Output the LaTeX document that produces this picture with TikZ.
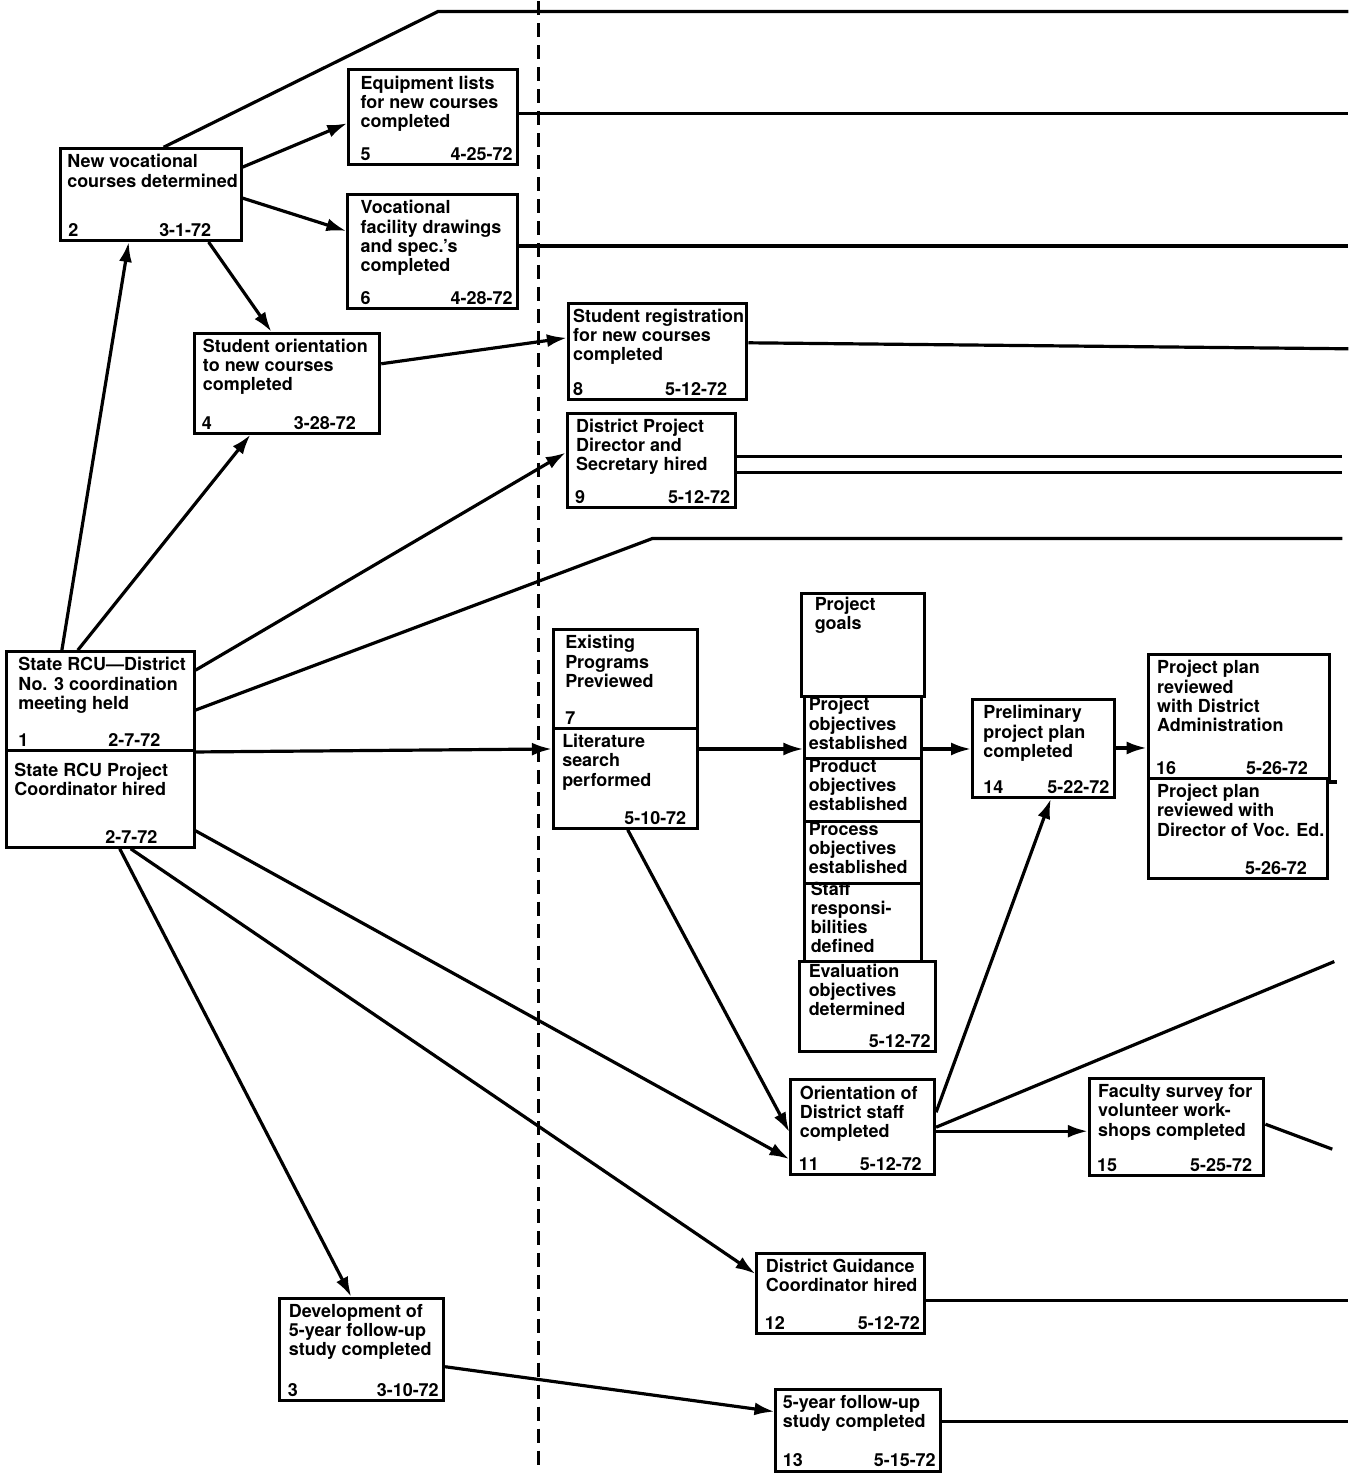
\documentclass[tikz,border=0pt]{standalone}
\usepackage{fontspec}
\setmainfont{TeX Gyre Heros}
\usetikzlibrary{arrows.meta}
\tikzset{
    box/.style ={
        rectangle,              % event box
        draw,                   % black frame
        line width = 1.5pt,     % frame width
        anchor = north west,    % placed by its top left corner
        inner sep = 0pt
    },
    ttl/.style ={
        anchor = north west,    % event text in the top left corner
        align = left,
        inner xsep = 5pt,
        inner ysep = 3.5pt
    },
    ttltop/.style ={ttl, inner xsep = 2.5pt, inner ysep = 1pt},
    num/.style ={anchor = south west, inner xsep = 4.5pt, inner ysep = 2.5pt},
    dat/.style ={anchor = south east, inner xsep = 3pt, inner ysep = 2.5pt},
    link/.style ={line width = 1.6pt}
}

\begin{document}
\begin{tikzpicture}[x=0.5pt, y=-0.5pt, >={Latex[length=10pt,width=6.5pt]},
    font=\fontsize{9}{9.6}\selectfont\bfseries]
    \fill[white] (0,0) rectangle (1351,1473);
    % time line
    \draw[line width=1.5pt, dash pattern=on 7pt off 4pt] (540,0) -- (540,1473);

    % events, left part
    \node[box, minimum width=94pt, minimum height=49.5pt,
        label={[ttl, inner xsep=6.5pt]north west:{State RCU---District\\No. 3 coordination\\meeting held}},
        label={[num, inner xsep=6.5pt]south west:1},
        label={[dat, xshift=-14.5pt]south east:2-7-72}] (1) at (5,650) {};
    \node[box, minimum width=94pt, minimum height=48.5pt,
        label={[ttl, inner xsep=4.5pt, inner ysep=7pt]north west:{State RCU Project\\Coordinator hired}},
        label={[dat, xshift=-16pt]south east:2-7-72}] (1b) at (5,749) {};
    \node[box, minimum width=90.5pt, minimum height=46pt,
        label={[ttl, inner xsep=4pt]north west:{New vocational\\courses determined}},
        label={[num]south west:2},
        label={[dat, xshift=-12.5pt]south east:3-1-72}] (2) at (59,146) {};
    \node[box, minimum width=82pt, minimum height=51pt,
        label={[ttl]north west:{Development of\\5-year follow-up\\study completed}},
        label={[num]south west:3},
        label={[dat]south east:3-10-72}] (3) at (279,1298) {};
    \node[box, minimum width=93pt, minimum height=50pt,
        label={[ttl]north west:{Student orientation\\to new courses\\completed}},
        label={[num]south west:4},
        label={[dat, xshift=-9.5pt]south east:3-28-72}] (4) at (193,331) {};
    \node[box, minimum width=84.5pt, minimum height=47.5pt,
        label={[ttl, inner xsep=6.5pt]north west:{Equipment lists\\for new courses\\completed}},
        label={[num, inner xsep=6.5pt]south west:5},
        label={[dat]south east:4-25-72}] (5) at (348,67) {};
    \node[box, minimum width=85pt, minimum height=57pt,
        label={[ttl, inner xsep=7pt]north west:{Vocational\\facility drawings\\and spec.'s\\completed}},
        label={[num, inner xsep=7pt]south west:6},
        label={[dat]south east:4-28-72}] (6) at (347,192) {};

    % events, right part
    \node[box, minimum width=72pt, minimum height=49.5pt,
        label={[ttl, inner xsep=6.5pt]north west:{Existing\\Programs\\Previewed}},
        label={[num, inner xsep=6.5pt]south west:7}] (7) at (553,628) {};
    \node[box, minimum width=72pt, minimum height=50pt,
        label={[ttl]north west:{Literature\\search\\performed}},
        label={[dat, xshift=-3pt]south east:5-10-72}] (7b) at (553,727) {};
    \node[box, minimum width=89.5pt, minimum height=48pt,
        label={[ttl, inner xsep=3pt]north west:{Student registration\\for new courses\\completed}},
        label={[num, inner xsep=3pt]south west:8},
        label={[dat, xshift=-7.5pt]south east:5-12-72}] (8) at (568,301) {};
    \node[box, minimum width=84pt, minimum height=47.5pt,
        label={[ttl]north west:{District Project\\Director and\\Secretary hired}},
        label={[num]south west:9},
        label={[dat]south east:5-12-72}] (9) at (567,411) {};
    \node[box, minimum width=61.5pt, minimum height=51.5pt,
        label={[ttl, inner xsep=7pt, inner ysep=2pt]north west:{Project\\goals}}] (10a) at (802,592) {};
    \node[box, minimum width=58.5pt, minimum height=31pt,
        label={[ttltop]north west:{Project\\objectives\\established}}] (10b) at (805,695) {};
    \node[box, minimum width=58.5pt, minimum height=31.5pt,
        label={[ttltop]north west:{Product\\objectives\\established}}] (10c) at (805,757) {};
    \node[box, minimum width=58.5pt, minimum height=31pt,
        label={[ttltop]north west:{Process\\objectives\\established}}] (10d) at (805,820) {};
    \node[box, minimum width=58.5pt, minimum height=39pt,
        label={[ttltop, inner xsep=3.5pt, inner ysep=0pt]north west:{Staff\\responsi-\\bilities\\defined}}] (10e) at (805,882) {};
    \node[box, minimum width=68pt, minimum height=45.5pt,
        label={[ttl, inner ysep=2pt]north west:{Evaluation\\objectives\\determined}},
        label={[dat]south east:5-12-72}] (10f) at (800,960) {};
    \node[box, minimum width=72pt, minimum height=47.5pt,
        label={[ttl]north west:{Orientation of\\District staff\\completed}},
        label={[num]south west:11},
        label={[dat, xshift=-4pt]south east:5-12-72}] (11) at (791,1079) {};
    \node[box, minimum width=84pt, minimum height=40pt,
        label={[ttl]north west:{District Guidance\\Coordinator hired}},
        label={[num]south west:12},
        label={[dat]south east:5-12-72}] (12) at (757,1253) {};
    \node[box, minimum width=82.5pt, minimum height=41pt,
        label={[ttl, inner xsep=4pt]north west:{5-year follow-up\\study completed}},
        label={[num, inner xsep=4pt]south west:13},
        label={[dat]south east:5-15-72}] (13) at (776,1389) {};
    \node[box, minimum width=71pt, minimum height=49pt,
        label={[ttl, inner xsep=6pt]north west:{Preliminary\\project plan\\completed}},
        label={[num, inner xsep=6pt]south west:14},
        label={[dat]south east:5-22-72}] (14) at (973,698) {};
    \node[box, minimum width=87.5pt, minimum height=48.5pt,
        label={[ttl]north west:{Faculty survey for\\volunteer work-\\shops completed}},
        label={[num]south west:15},
        label={[dat, xshift=-3.5pt]south east:5-25-72}] (15) at (1090,1078) {};
    \node[box, minimum width=91pt, minimum height=62pt,
        label={[ttl]north west:{Project plan\\reviewed\\with District\\Administration}},
        label={[num]south west:16},
        label={[dat, xshift=-8.5pt]south east:5-26-72}] (16) at (1149,653) {};
    \node[box, minimum width=90pt, minimum height=50pt,
        label={[ttl]north west:{Project plan\\reviewed with\\Director of Voc. Ed.}},
        label={[dat, xshift=-8pt]south east:5-26-72}] (16b) at (1149,777) {};

    % free ends at the right margin
    \coordinate (k2) at (439,10);
    \coordinate (r2) at (1351,10);
    \coordinate (r5) at (1351,112);
    \coordinate (r6) at (1351,245);
    \coordinate (r8) at (1351,348);
    \coordinate (r9a) at (1345,456);
    \coordinate (r9b) at (1345,472);
    \coordinate (k1) at (654,538);
    \coordinate (r1) at (1345,538);
    \coordinate (r16) at (1340,782);
    \coordinate (r11) at (1337,962);
    \coordinate (r15) at (1335,1150);
    \coordinate (r12) at (1351,1302);
    \coordinate (r13) at (1351,1423);

    % connectors
    \draw[link, ->] ([shift={(57,0)}]1.north west) -- ([shift={(70,0)}]2.south west);
    \draw[link, ->] ([shift={(73,0)}]1.north west) -- ([shift={(58,0)}]4.south west);
    \draw[link, ->] ([shift={(0,20)}]1.north east) -- ([shift={(0,41)}]9.north west);
    \draw[link] ([shift={(0,60)}]1.north east) -- (k1) -- (r1);
    \draw[link, ->] (1.south east) -- ([shift={(0,22)}]7b.north west);
    \draw[link, ->] ([shift={(0,-18)}]1b.south east) -- ([shift={(0,-17)}]11.south west);
    \draw[link, ->] ([shift={(126,0)}]1b.south west) -- ([shift={(0,22)}]12.north west);
    \draw[link, ->] ([shift={(115,0)}]1b.south west) -- ([shift={(73,0)}]3.north west);
    \draw[link] ([shift={(105,0)}]2.north west) -- (k2) -- (r2);
    \draw[link, ->] ([shift={(0,20)}]2.north east) -- ([shift={(0,55)}]5.north west);
    \draw[link, ->] ([shift={(0,51)}]2.north east) -- ([shift={(0,38)}]6.north west);
    \draw[link, ->] ([shift={(150,0)}]2.south west) -- ([shift={(79,0)}]4.north west);
    \draw[link, ->] ([shift={(0,32)}]4.north east) -- ([shift={(0,36)}]8.north west);
    \draw[link] (r5 -| 5.east) -- (r5);
    \draw[link] (r6 -| 6.east) -- (r6);
    \draw[link] ([shift={(0,41)}]8.north east) -- (r8);
    \draw[link] (r9a -| 9.east) -- (r9a);
    \draw[link] (r9b -| 9.east) -- (r9b);
    \draw[link, ->] ([shift={(0,22)}]7b.north east) -- ([shift={(0,54)}]10b.north west);
    \draw[link, ->] ([shift={(76,0)}]7b.south west) -- ([shift={(0,54)}]11.north west);
    \draw[link, ->] ([shift={(0,54)}]10b.north east) -- ([shift={(0,51)}]14.north west);
    \draw[link, ->] ([shift={(0,50)}]14.north east) -- ([shift={(0,95)}]16.north west);
    \draw[link] ([shift={(0,5)}]16b.north east) -- (r16);
    \draw[link, ->] ([shift={(0,34)}]11.north east) -- ([shift={(80,0)}]14.south west);
    \draw[link] ([shift={(0,49)}]11.north east) -- (r11);
    \draw[link, ->] ([shift={(0,53)}]11.north east) -- ([shift={(0,54)}]15.north west);
    \draw[link] ([shift={(0,47)}]15.north east) -- (r15);
    \draw[link] ([shift={(0,49)}]12.north east) -- (r12);
    \draw[link, ->] ([shift={(0,70)}]3.north east) -- ([shift={(0,24)}]13.north west);
    \draw[link] ([shift={(0,34)}]13.north east) -- (r13);
\end{tikzpicture}
\end{document}
